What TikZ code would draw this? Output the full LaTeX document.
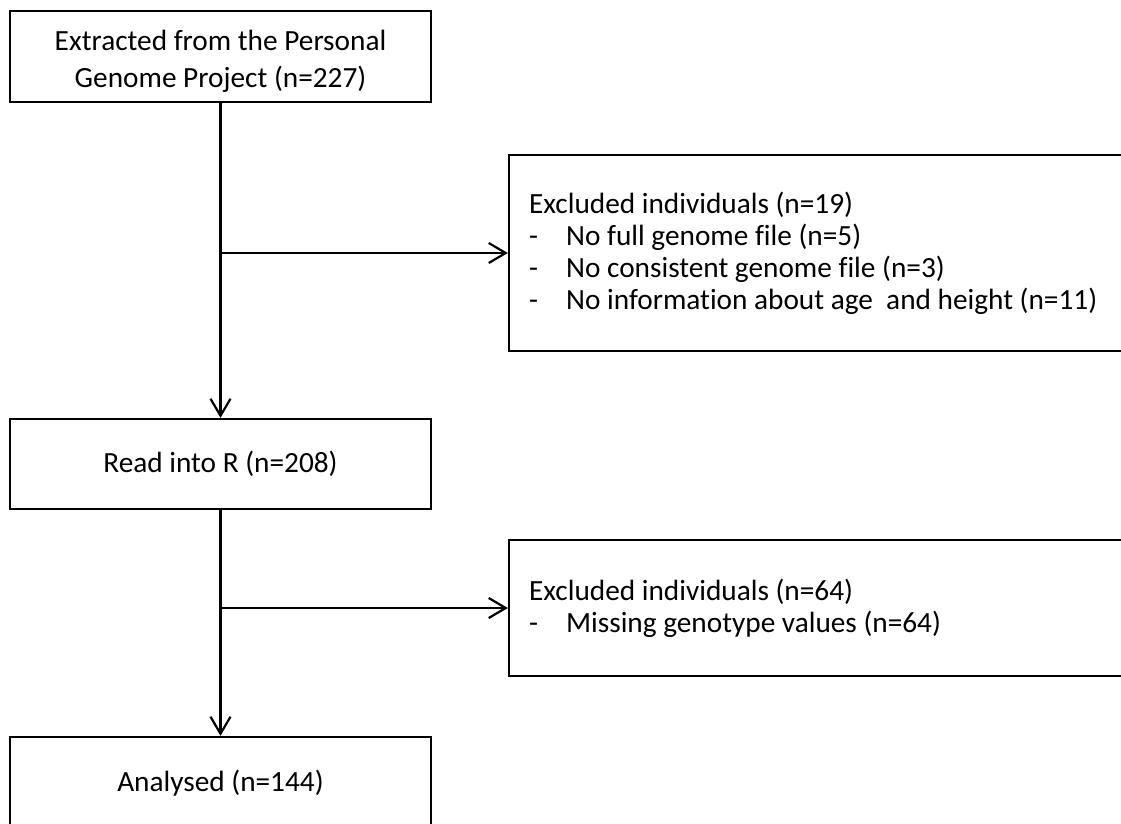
\documentclass[tikz,border=0pt]{standalone}
\usepackage{fontspec}
\setmainfont{Carlito}[Ligatures=NoCommon]
\usetikzlibrary{arrows.meta}
\begin{document}
\begin{tikzpicture}[x=1pt,y=-1pt,
  box/.style={draw, line width=2.2pt, inner sep=0pt, align=center, font=\fontsize{29.3}{37}\selectfont},
  sidebox/.style={draw, line width=2.2pt, inner sep=0pt, minimum width=640pt},
  sidetext/.style={anchor=west, inner sep=0pt, align=left, font=\fontsize{29.3}{32}\selectfont},
  flow/.style={line width=2.2pt, -{Straight Barb[length=17pt,width=20pt]}}]
\clip (0,0) rectangle (1121,823);
\node[box, minimum width=421pt, minimum height=91pt] (src) at (220.5,56.5) {\rule{0pt}{31pt}Extracted from the Personal\\Genome Project (n=227)};
\node[box, minimum width=421pt, minimum height=90pt] (read) at (220.5,464) {Read into R (n=208)};
\node[box, minimum width=421pt, minimum height=92pt] (ana) at (220.5,783) {Analysed (n=144)};
\node[sidebox, minimum height=196pt] (ex1) at (829,253) {};
\node[sidetext] (ex1text) at ([xshift=21pt]ex1.west) {Excluded individuals (n=19)\\
\makebox[37pt][l]{-}No full genome file (n=5)\\
\makebox[37pt][l]{-}No consistent genome file (n=3)\\
\makebox[37pt][l]{-}No information about age\ \ and height (n=11)};
\node[sidebox, minimum height=136pt] (ex2) at (829,608) {};
\node[sidetext] (ex2text) at ([xshift=21pt]ex2.west) {Excluded individuals (n=64)\\
\makebox[37pt][l]{-}Missing genotype values (n=64)};
\coordinate (b1) at (src.south |- ex1.west);
\coordinate (b2) at (read.south |- ex2.west);
\draw[flow] (src.south) -- (read.north);
\draw[flow] (read.south) -- (ana.north);
\draw[flow] (b1) -- (ex1.west);
\draw[flow] (b2) -- (ex2.west);
\end{tikzpicture}
\end{document}
